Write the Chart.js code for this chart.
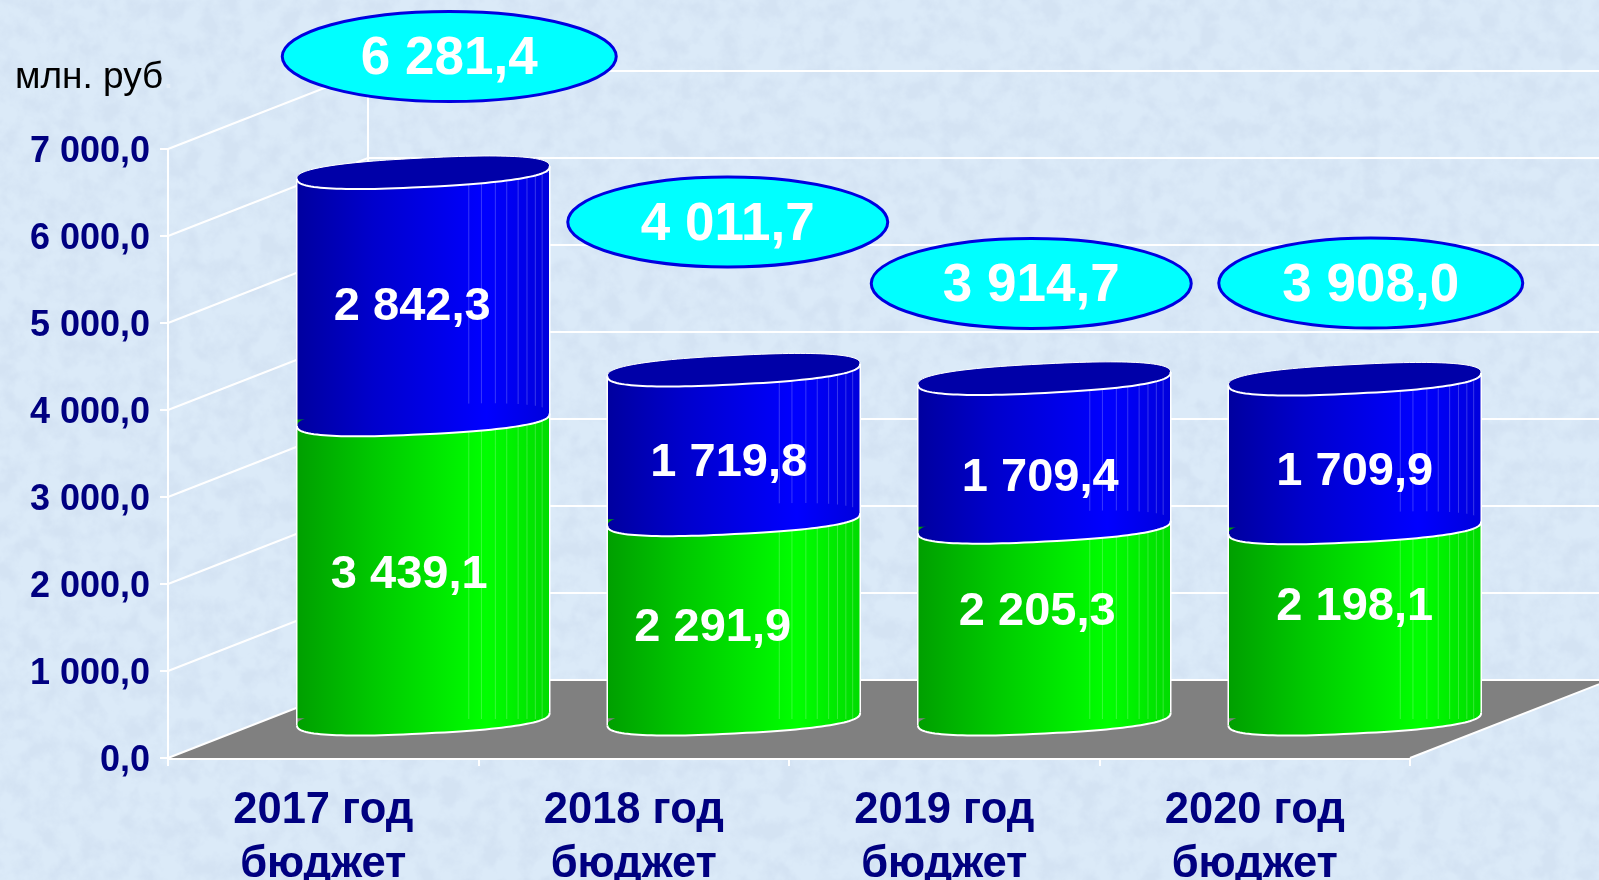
<!DOCTYPE html>
<html>
<head>
<meta charset="utf-8">
<title>Бюджет</title>
<script src="https://cdn.jsdelivr.net/npm/chart.js@4/dist/chart.umd.min.js"></script>
<style>
  html, body { margin: 0; padding: 0; width: 1599px; height: 880px; overflow: hidden; background: #dbeaf8; }
  #paper { position: absolute; left: 0; top: 0; }
  #budgetChart { position: absolute; left: 0; top: 0; }
</style>
</head>
<body>
<svg id="paper" width="1599" height="880">
  <filter id="marble">
    <feTurbulence type="fractalNoise" baseFrequency="0.05" numOctaves="5" seed="7"/>
    <feColorMatrix values="0 0 0 0 0.66  0 0 0 0 0.77  0 0 0 0 0.90  2.2 2.2 0 0 -1.85"/>
  </filter>
  <rect width="1599" height="880" filter="url(#marble)"/>
</svg>
<canvas id="budgetChart" width="1599" height="880"></canvas>
<script>
const years = [["2017 год", "бюджет"], ["2018 год", "бюджет"], ["2019 год", "бюджет"], ["2020 год", "бюджет"]];
const lowerValues = [3439.1, 2291.9, 2205.3, 2198.1];
const upperValues = [2842.3, 1719.8, 1709.4, 1709.9];
const totals = [6281.4, 4011.7, 3914.7, 3908.0];

// hand placed labels, same as in the slide (dx, dy from the middle of the segment)
const lowerNudge = [[-14, 6], [-21, 9], [-7, -11], [0, -16]];
const upperNudge = [[-11, 11], [-5, 18], [-4, 25], [0, 19]];
const badgeNudge = [[26, -116], [-6, -148], [-13, -95], [16, -96]];
const badgeWidth = [167, 160, 160, 152];

// fake 3d depth of the plot
const depthX = 200;
const depthY = 78;
const barWidth = 253;
const tilt = -0.05;
const capRy = 14.5;
const creases = [0.68, 0.73, 0.785, 0.83, 0.875, 0.91, 0.943, 0.97];
const TAU = Math.PI * 2;

const navy = "#000080";

function money(v) {
  const parts = v.toFixed(1).split(".");
  return parts[0].replace(/\B(?=(\d{3})+$)/g, " ") + "," + parts[1];
}

function sideGradient(ctx, x, stops) {
  const g = ctx.createLinearGradient(x - barWidth / 2, 0, x + barWidth / 2, 0);
  stops.forEach(s => g.addColorStop(s[0], s[1]));
  return g;
}
const greenStops = [[0, "#009f00"], [0.3, "#00c800"], [0.75, "#00ff00"], [1, "#00dc00"]];
const blueStops = [[0, "#00009f"], [0.3, "#0000cc"], [0.75, "#0000ff"], [1, "#0000dc"]];

function barFill(c, stops) {
  const sx = c.chart.scales.x;
  const px = sx && c.dataIndex !== undefined ? sx.getPixelForValue(c.dataIndex) : NaN;
  if (!isFinite(px)) return stops[1][1];
  return sideGradient(c.chart.ctx, px, stops);
}

// rim of a cylinder, a bit squarer than a true ellipse and tilted like in the slide
function rimPoint(x, y, a) {
  const c = Math.cos(a), s = Math.sin(a);
  const px = barWidth / 2 * Math.sign(c) * Math.pow(Math.abs(c), 0.8);
  const py = capRy * Math.sign(s) * Math.pow(Math.abs(s), 0.8);
  return [x + px * Math.cos(tilt) - py * Math.sin(tilt), y + px * Math.sin(tilt) + py * Math.cos(tilt)];
}

function rimTrace(ctx, x, y, from, to) {
  const steps = 60;
  for (let k = 0; k <= steps; k++) {
    const p = rimPoint(x, y, from + (to - from) * k / steps);
    ctx.lineTo(p[0], p[1]);
  }
}

function rimFill(ctx, x, y, from, to, fill) {
  ctx.beginPath();
  rimTrace(ctx, x, y, from, to);
  ctx.closePath();
  ctx.fillStyle = fill;
  ctx.fill();
}

function rimLine(ctx, x, y, from, to, width) {
  ctx.beginPath();
  rimTrace(ctx, x, y, from, to);
  ctx.strokeStyle = "#ffffff";
  ctx.lineWidth = width;
  ctx.stroke();
}

// the wedge at the right end, where the tilted rim rises above the flat bar edge
function rimWedge(ctx, x, y, fill) {
  ctx.beginPath();
  rimTrace(ctx, x, y, 0, 0.33);
  ctx.lineTo(x + barWidth / 2, y);
  ctx.closePath();
  ctx.fillStyle = fill;
  ctx.fill();
}

const box3d = {
  id: "box3d",
  beforeDatasetsDraw(chart) {
    const { ctx, chartArea: a, scales: { x, y } } = chart;
    const zero = y.getPixelForValue(0);
    ctx.save();
    // floor
    ctx.beginPath();
    ctx.moveTo(a.left, zero);
    ctx.lineTo(a.right, zero);
    ctx.lineTo(a.right + depthX, zero - depthY);
    ctx.lineTo(a.left + depthX, zero - depthY);
    ctx.closePath();
    ctx.fillStyle = "#808080";
    ctx.fill();
    // walls
    ctx.strokeStyle = "#ffffff";
    ctx.lineWidth = 2;
    y.ticks.forEach(t => {
      const py = y.getPixelForValue(t.value);
      ctx.beginPath();
      ctx.moveTo(a.left, py);
      ctx.lineTo(a.left + depthX, py - depthY);
      ctx.lineTo(chart.width, py - depthY);
      ctx.stroke();
    });
    ctx.beginPath();
    ctx.moveTo(a.left + depthX, a.top - depthY);
    ctx.lineTo(a.left + depthX, zero - depthY);
    ctx.moveTo(a.right, zero);
    ctx.lineTo(a.right + depthX, zero - depthY);
    ctx.stroke();
    ctx.restore();
    // bars are pushed back to the middle of the floor
    ctx.save();
    ctx.translate(depthX / 2, -depthY / 2);
    // and cut to the outline of the cylinders, so no square corners stick out
    ctx.save();
    ctx.beginPath();
    years.forEach((_, i) => {
      const cx = x.getPixelForValue(i);
      const yTop = y.getPixelForValue(lowerValues[i] + upperValues[i]);
      const start = rimPoint(cx, yTop, Math.PI);
      ctx.moveTo(start[0], start[1]);
      rimTrace(ctx, cx, yTop, Math.PI, TAU);
      rimTrace(ctx, cx, zero, 0, Math.PI);
      ctx.closePath();
    });
    ctx.clip();
  },
  afterDatasetsDraw(chart) {
    const { ctx, scales: { x, y } } = chart;
    ctx.restore();
    const rx = barWidth / 2;
    const rise = rx * Math.sin(-tilt);
    years.forEach((_, i) => {
      const cx = x.getPixelForValue(i);
      const yBase = y.getPixelForValue(0);
      const yMid = y.getPixelForValue(lowerValues[i]);
      const yTop = y.getPixelForValue(lowerValues[i] + upperValues[i]);
      const green = sideGradient(ctx, cx, greenStops);
      const blue = sideGradient(ctx, cx, blueStops);

      // bottom
      rimFill(ctx, cx, yBase, 0, TAU, green);

      ctx.lineWidth = 1;
      ctx.strokeStyle = "rgba(255,255,255,0.22)";
      creases.forEach(f => {
        const lx = cx - rx + f * barWidth;
        ctx.beginPath();
        ctx.moveTo(lx, yTop);
        ctx.lineTo(lx, yBase);
        ctx.stroke();
      });
      rimLine(ctx, cx, yBase, 0, Math.PI, 2);

      // seam between the two parts
      rimFill(ctx, cx, yMid, 0, TAU, blue);
      rimWedge(ctx, cx, yMid, green);
      rimLine(ctx, cx, yMid, 0, Math.PI, 2);

      // top cap
      rimFill(ctx, cx, yTop, 0, TAU, "#0000a8");
      rimWedge(ctx, cx, yTop, blue);
      rimLine(ctx, cx, yTop, Math.PI, TAU, 1);
      rimLine(ctx, cx, yTop, 0, Math.PI, 2);

      // sides
      ctx.strokeStyle = "#ffffff";
      ctx.lineWidth = 1.5;
      ctx.beginPath();
      ctx.moveTo(cx - rx, yTop + rise);
      ctx.lineTo(cx - rx, yBase + rise);
      ctx.moveTo(cx + rx, yTop - rise);
      ctx.lineTo(cx + rx, yBase - rise);
      ctx.stroke();

      // values on the bars
      ctx.fillStyle = "#ffffff";
      ctx.font = "bold 47px 'Liberation Sans'";
      ctx.textAlign = "center";
      ctx.textBaseline = "middle";
      const yl = y.getPixelForValue(lowerValues[i] / 2);
      const yu = y.getPixelForValue(lowerValues[i] + upperValues[i] / 2);
      ctx.fillText(money(lowerValues[i]), cx + lowerNudge[i][0], yl + lowerNudge[i][1]);
      ctx.fillText(money(upperValues[i]), cx + upperNudge[i][0], yu + upperNudge[i][1]);

      // total in the cyan oval
      const bx = cx + badgeNudge[i][0];
      const by = y.getPixelForValue(totals[i]) + badgeNudge[i][1];
      ctx.beginPath();
      ctx.ellipse(bx, by, badgeWidth[i], 45, 0, 0, TAU);
      ctx.fillStyle = "#00ffff";
      ctx.fill();
      ctx.strokeStyle = "#0000e0";
      ctx.lineWidth = 3;
      ctx.stroke();
      ctx.fillStyle = "#ffffff";
      ctx.font = "bold 53px 'Liberation Sans'";
      ctx.fillText(money(totals[i]), bx, by + 3);
    });
    ctx.restore();

    ctx.font = "37px 'Liberation Sans'";
    ctx.textAlign = "left";
    ctx.textBaseline = "middle";
    ctx.fillStyle = "#000000";
    ctx.fillText("млн. руб", 15, 78);
    const w = ctx.measureText("млн. руб").width;
    ctx.fillStyle = "#e4eef8";
    ctx.fillText(".", 15 + w, 78);
  }
};

const ctx = document.getElementById("budgetChart").getContext("2d");
const chart = new Chart(ctx, {
  type: "bar",
  data: {
    labels: years,
    datasets: [{
      label: "lower",
      data: lowerValues,
      clip: false,
      barThickness: barWidth,
      backgroundColor: c => barFill(c, greenStops)
    }, {
      label: "upper",
      data: upperValues,
      clip: false,
      barThickness: barWidth,
      backgroundColor: c => barFill(c, blueStops)
    }]
  },
  options: {
    responsive: false,
    animation: false,
    layout: { autoPadding: false, padding: { top: 149, right: 189, left: 0, bottom: 0 } },
    plugins: { legend: { display: false }, tooltip: { enabled: false } },
    scales: {
      x: {
        stacked: true,
        afterFit: s => { s.height = 122; },
        grid: { drawOnChartArea: false, color: "#ffffff", lineWidth: 2, tickLength: 8, offset: true },
        border: { color: "#ffffff", width: 3 },
        ticks: {
          color: navy,
          maxRotation: 0,
          autoSkip: false,
          padding: 18,
          font: { family: "'Liberation Sans'", size: 43.5, weight: "bold", lineHeight: 1.24 }
        }
      },
      y: {
        stacked: true,
        min: 0,
        max: 7000,
        afterFit: s => { s.width = 168; },
        grid: { drawOnChartArea: false, color: "#ffffff", lineWidth: 2, tickLength: 8 },
        border: { color: "#ffffff", width: 2 },
        ticks: {
          stepSize: 1000,
          color: navy,
          padding: 10,
          labelOffset: 3,
          font: { family: "'Liberation Sans'", size: 36, weight: "bold" },
          callback: v => money(v)
        }
      }
    }
  },
  plugins: [box3d]
});
</script>
</body>
</html>
